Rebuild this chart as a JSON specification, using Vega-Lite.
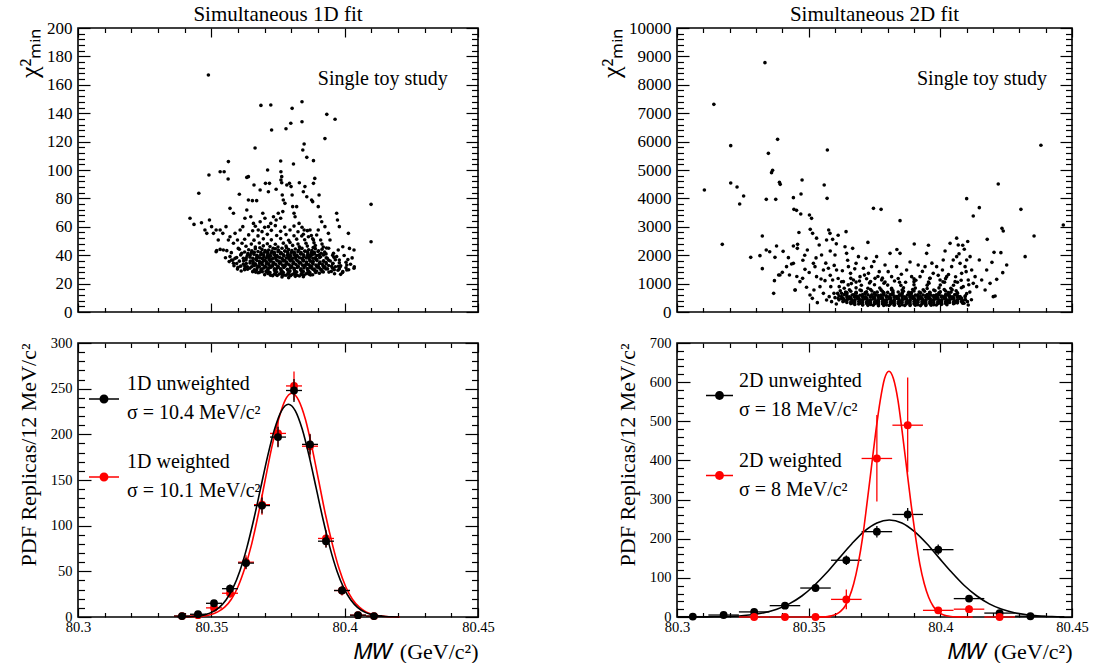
{
"$schema": "https://vega.github.io/schema/vega-lite/v6.json",
"background": "white",
"padding": {"left": 15, "top": 3, "right": 0, "bottom": 0},
"config": {
  "font": "Liberation Serif",
  "view": {"stroke": "black", "strokeWidth": 1.6},
  "axis": {"domain": false, "grid": false, "labelFont": "Liberation Serif", "titleFont": "Liberation Serif", "labelColor": "black", "titleColor": "black", "tickColor": "black", "tickWidth": 1.2, "titleFontWeight": "normal", "labelFlush": false, "labelOverlap": false, "labelBound": false},
  "legend": {"labelFont": "Liberation Serif", "labelColor": "black"},
  "title": {"font": "Liberation Serif", "fontWeight": "normal", "color": "black"},
  "style": {"guide-label": {"lineHeight": 29}}
},
"datasets": {
"s1": [
{"m":80.3489,"c":166.9},{"m":80.3686,"c":145.5},{"m":80.3723,"c":145.8},{"m":80.3803,"c":143.4},{"m":80.384,"c":148.1},{"m":80.3933,"c":139.2},{"m":80.3964,"c":135.7},{"m":80.3726,"c":128.2},{"m":80.378,"c":129.1},{"m":80.3798,"c":132.9},{"m":80.384,"c":134},{"m":80.3926,"c":122.1},{"m":80.3848,"c":118.3},{"m":80.3843,"c":114.1},{"m":80.3664,"c":115.5},{"m":80.3858,"c":108.9},{"m":80.3883,"c":106.6},{"m":80.3808,"c":104.2},{"m":80.376,"c":106.3},{"m":80.3564,"c":105.9},{"m":80.3491,"c":96.5},{"m":80.3533,"c":98.8},{"m":80.3548,"c":98.8},{"m":80.3563,"c":93.7},{"m":80.3453,"c":83.6},{"m":80.342,"c":66},{"m":80.3435,"c":61.7},{"m":80.3463,"c":62.9},{"m":80.3476,"c":57.7},{"m":80.4099,"c":75.8},{"m":80.4099,"c":49.5},{"m":80.3633,"c":94.8},{"m":80.3639,"c":95.3},{"m":80.366,"c":89.4},{"m":80.3711,"c":100},
{"m":80.3605,"c":82.9},{"m":80.3639,"c":78.9},{"m":80.3654,"c":78.4},{"m":80.367,"c":78.4},{"m":80.3683,"c":85.9},{"m":80.3703,"c":90.6},{"m":80.3718,"c":90.6},{"m":80.3714,"c":84.7},{"m":80.3743,"c":86.4},{"m":80.3761,"c":93},{"m":80.3764,"c":91},{"m":80.3766,"c":82.4},{"m":80.3783,"c":89.4},{"m":80.3793,"c":90.6},{"m":80.3799,"c":88.3},{"m":80.3803,"c":82.4},{"m":80.3761,"c":98.8},{"m":80.3764,"c":95.3},{"m":80.377,"c":78.9},{"m":80.383,"c":91},{"m":80.3845,"c":84.7},{"m":80.3851,"c":88.3},{"m":80.3858,"c":81.2},{"m":80.3876,"c":78.9},{"m":80.388,"c":77.7},{"m":80.3888,"c":94.1},{"m":80.3883,"c":90.6},{"m":80.3904,"c":82.4},{"m":80.3901,"c":74.2},{"m":80.3908,"c":67.1},{"m":80.397,"c":69.5},{"m":80.3973,"c":64.8},{"m":80.398,"c":60.1},{"m":80.4014,"c":55.4},{"m":80.3993,"c":46},{"m":80.4018,"c":44.8},{"m":80.4035,"c":43.7},{"m":80.4036,"c":31.9},{"m":80.4035,"c":30.8},{"m":80.4008,"c":33.1},{"m":80.4008,"c":29.6},{"m":80.3983,"c":31.9},{"m":80.3993,"c":28.4},{"m":80.398,"c":36.6},{"m":80.397,"c":39},{"m":80.3976,"c":43.7},{"m":80.3958,"c":41.3},{"m":80.3945,"c":50.7},{"m":80.3939,"c":55.4},{"m":80.3926,"c":60.1},{"m":80.3914,"c":63.6},{"m":80.3901,"c":57.7},{"m":80.3895,"c":54.2},{"m":80.3883,"c":50.7},{"m":80.387,"c":57.7},{"m":80.3864,"c":53},{"m":80.3848,"c":57.7},{"m":80.3839,"c":53.5},{"m":80.3829,"c":62.4},{"m":80.3814,"c":67.1},{"m":80.381,"c":69.5},{"m":80.3805,"c":74.2},{"m":80.382,"c":74.2},{"m":80.3776,"c":76.5},{"m":80.3768,"c":70.7},{"m":80.376,"c":66},{"m":80.3751,"c":69.5},{"m":80.3743,"c":64.8},{"m":80.3733,"c":67.1},{"m":80.3723,"c":62.4},{"m":80.3714,"c":60.1},{"m":80.3701,"c":66},{"m":80.3693,"c":69.5},{"m":80.3683,"c":63.6},{"m":80.3676,"c":57.7},{"m":80.3658,"c":62.4},{"m":80.3648,"c":67.1},{"m":80.3633,"c":71.8},{"m":80.3626,"c":66},{"m":80.3618,"c":60.1},{"m":80.3608,"c":57.7},{"m":80.3589,"c":55.4},{"m":80.3583,"c":69.5},{"m":80.357,"c":73},{"m":80.3555,"c":60.1},{"m":80.3543,"c":55.4},{"m":80.3533,"c":57.7},{"m":80.3526,"c":50.7},{"m":80.3518,"c":57.7},{"m":80.3508,"c":55.4},{"m":80.3501,"c":60.1},{"m":80.3483,"c":55.4},{"m":80.3493,"c":64.8},{"m":80.352,"c":43.2},{"m":80.3533,"c":44.1},{"m":80.3545,"c":43.7},{"m":80.3558,"c":43.2},{"m":80.3518,"c":42.5},{"m":80.357,"c":39},{"m":80.3576,"c":36.6},{"m":80.3589,"c":37.8},{"m":80.3583,"c":34.3},{"m":80.3601,"c":44.8},{"m":80.3614,"c":41.3},{"m":80.3598,"c":50.7},{"m":80.3583,"c":48.4},{"m":80.357,"c":53},{"m":80.3564,"c":50.7},
{"m":80.3765,"c":24.6},{"m":80.379,"c":24.2},{"m":80.3815,"c":25.1},{"m":80.3845,"c":24.8},{"m":80.37,"c":26.3},{"m":80.373,"c":25.6},{"m":80.3755,"c":26.8},{"m":80.378,"c":25.9},{"m":80.3805,"c":26.5},{"m":80.383,"c":25.4},{"m":80.3855,"c":26.9},{"m":80.388,"c":26.2},{"m":80.3905,"c":27.3},{"m":80.3675,"c":27.6},
{"m":80.3655,"c":28.4},{"m":80.368,"c":27.9},{"m":80.3705,"c":28.6},{"m":80.372,"c":27.7},{"m":80.3745,"c":28.3},{"m":80.377,"c":27.8},{"m":80.3795,"c":28.9},{"m":80.382,"c":28.1},{"m":80.3845,"c":28.5},{"m":80.387,"c":27.6},{"m":80.3895,"c":28.8},{"m":80.392,"c":28.2},{"m":80.395,"c":28.6},{"m":80.3975,"c":29.4},{"m":80.3625,"c":29.8},
{"m":80.3625,"c":30.4},{"m":80.3645,"c":30.9},{"m":80.367,"c":29.7},{"m":80.369,"c":30.3},{"m":80.3715,"c":30.8},{"m":80.374,"c":29.9},{"m":80.376,"c":30.5},{"m":80.3785,"c":30.1},{"m":80.381,"c":30.7},{"m":80.3835,"c":29.8},{"m":80.386,"c":30.6},{"m":80.388,"c":30.2},{"m":80.3905,"c":30.9},{"m":80.393,"c":30.3},{"m":80.3955,"c":30.8},{"m":80.398,"c":30.4},{"m":80.4005,"c":31.2},{"m":80.36,"c":31.5},
{"m":80.361,"c":32.3},{"m":80.3635,"c":31.8},{"m":80.366,"c":32.6},{"m":80.368,"c":32.1},{"m":80.3705,"c":31.7},{"m":80.373,"c":32.5},{"m":80.375,"c":32},{"m":80.3775,"c":32.8},{"m":80.38,"c":31.9},{"m":80.3825,"c":32.4},{"m":80.385,"c":32.9},{"m":80.387,"c":31.8},{"m":80.3895,"c":32.6},{"m":80.392,"c":32.2},{"m":80.394,"c":32.7},{"m":80.3965,"c":31.9},{"m":80.3985,"c":32.5},
{"m":80.3595,"c":34.2},{"m":80.362,"c":33.7},{"m":80.3645,"c":34.5},{"m":80.3665,"c":34},{"m":80.369,"c":34.8},{"m":80.3715,"c":33.9},{"m":80.3735,"c":34.4},{"m":80.376,"c":34.9},{"m":80.3785,"c":33.8},{"m":80.381,"c":34.3},{"m":80.3835,"c":34.7},{"m":80.386,"c":33.6},{"m":80.388,"c":34.5},{"m":80.3905,"c":34.1},{"m":80.393,"c":34.8},{"m":80.3955,"c":33.9},{"m":80.398,"c":34.6},{"m":80.4005,"c":35},
{"m":80.358,"c":36.4},{"m":80.3605,"c":35.8},{"m":80.363,"c":36.6},{"m":80.3655,"c":36.1},{"m":80.368,"c":35.7},{"m":80.37,"c":36.5},{"m":80.3725,"c":36.9},{"m":80.375,"c":35.9},{"m":80.3775,"c":36.3},{"m":80.38,"c":36.8},{"m":80.3825,"c":35.8},{"m":80.3845,"c":36.6},{"m":80.387,"c":36.2},{"m":80.3895,"c":36.9},{"m":80.392,"c":35.7},{"m":80.394,"c":36.4},{"m":80.3965,"c":36.8},
{"m":80.3595,"c":38.3},{"m":80.362,"c":37.8},{"m":80.3645,"c":38.6},{"m":80.367,"c":38.1},{"m":80.369,"c":37.7},{"m":80.3715,"c":38.5},{"m":80.374,"c":38.9},{"m":80.3765,"c":37.9},{"m":80.379,"c":38.4},{"m":80.3815,"c":38.8},{"m":80.384,"c":37.8},{"m":80.3865,"c":38.6},{"m":80.389,"c":38.2},{"m":80.391,"c":38.9},{"m":80.3935,"c":37.9},{"m":80.396,"c":38.5},
{"m":80.361,"c":40.2},{"m":80.3635,"c":39.8},{"m":80.366,"c":40.6},{"m":80.3685,"c":40.1},{"m":80.371,"c":39.7},{"m":80.3735,"c":40.5},{"m":80.376,"c":40.9},{"m":80.3785,"c":39.9},{"m":80.381,"c":40.4},{"m":80.3835,"c":40.8},{"m":80.386,"c":39.8},{"m":80.388,"c":40.6},{"m":80.3905,"c":40.2},{"m":80.393,"c":40.9},{"m":80.3955,"c":39.9},
{"m":80.3625,"c":42.3},{"m":80.365,"c":41.8},{"m":80.3675,"c":42.6},{"m":80.37,"c":42.1},{"m":80.3725,"c":41.7},{"m":80.375,"c":42.5},{"m":80.3775,"c":42.9},{"m":80.38,"c":41.9},{"m":80.3825,"c":42.4},{"m":80.385,"c":42.8},{"m":80.3875,"c":41.8},{"m":80.39,"c":42.6},{"m":80.3925,"c":42.2},
{"m":80.3605,"c":44.2},{"m":80.364,"c":43.8},{"m":80.3665,"c":44.6},{"m":80.369,"c":44.1},{"m":80.3715,"c":43.7},{"m":80.374,"c":44.5},{"m":80.3765,"c":44.9},{"m":80.379,"c":43.9},{"m":80.3815,"c":44.4},{"m":80.384,"c":44.8},{"m":80.3865,"c":43.8},{"m":80.389,"c":44.6},{"m":80.3915,"c":44.2},{"m":80.394,"c":44.9},
{"m":80.363,"c":46.3},{"m":80.3665,"c":45.8},{"m":80.3695,"c":46.6},{"m":80.372,"c":46.1},{"m":80.375,"c":45.7},{"m":80.378,"c":46.5},{"m":80.3805,"c":46.9},{"m":80.383,"c":45.9},{"m":80.386,"c":46.4},{"m":80.389,"c":46.8},{"m":80.392,"c":45.8},
{"m":80.3615,"c":48.4},{"m":80.365,"c":47.8},{"m":80.368,"c":48.6},{"m":80.371,"c":48.1},{"m":80.374,"c":47.7},{"m":80.377,"c":48.5},{"m":80.3795,"c":48.9},{"m":80.3825,"c":47.9},{"m":80.3855,"c":48.4},{"m":80.3885,"c":48.8},{"m":80.3915,"c":47.8},
{"m":80.3625,"c":51.2},{"m":80.366,"c":50.6},{"m":80.3695,"c":51.5},{"m":80.3725,"c":50.8},{"m":80.376,"c":51.7},{"m":80.379,"c":50.5},{"m":80.382,"c":51.3},{"m":80.385,"c":50.9},{"m":80.388,"c":51.6},{"m":80.391,"c":50.7},
{"m":80.364,"c":54.3},{"m":80.3675,"c":53.6},{"m":80.371,"c":54.7},{"m":80.3745,"c":53.9},{"m":80.378,"c":54.5},{"m":80.381,"c":53.7},{"m":80.3845,"c":54.8},{"m":80.3875,"c":53.8},
{"m":80.3655,"c":57.2},{"m":80.369,"c":56.6},{"m":80.3725,"c":57.5},{"m":80.376,"c":56.8},{"m":80.3795,"c":57.7},{"m":80.3825,"c":56.5},{"m":80.386,"c":57.3},
{"m":80.3665,"c":60.4},{"m":80.37,"c":59.6},{"m":80.374,"c":60.8},{"m":80.3775,"c":59.8},{"m":80.381,"c":60.5},{"m":80.384,"c":59.7},
{"m":80.3712,"c":27.1},{"m":80.3737,"c":26.9},{"m":80.3762,"c":27.2},{"m":80.3787,"c":27},{"m":80.3812,"c":27.3},{"m":80.3837,"c":26.8},{"m":80.3862,"c":27.4},
{"m":80.3687,"c":29.2},{"m":80.3712,"c":29},{"m":80.3737,"c":29.3},{"m":80.3762,"c":28.9},{"m":80.3787,"c":29.4},{"m":80.3812,"c":29.1},{"m":80.3837,"c":29.3},{"m":80.3862,"c":29},{"m":80.3887,"c":29.2},{"m":80.3912,"c":29.5},
{"m":80.3672,"c":31.2},{"m":80.3697,"c":31},{"m":80.3722,"c":31.3},{"m":80.3747,"c":30.9},{"m":80.3772,"c":31.4},{"m":80.3797,"c":31.1},{"m":80.3822,"c":31.3},{"m":80.3847,"c":31},{"m":80.3872,"c":31.2},{"m":80.3897,"c":31.5},{"m":80.3922,"c":31.1},
{"m":80.3667,"c":33.1},{"m":80.3692,"c":33.3},{"m":80.3717,"c":32.9},{"m":80.3742,"c":33.4},{"m":80.3767,"c":33},{"m":80.3792,"c":33.2},{"m":80.3817,"c":33.5},{"m":80.3842,"c":33},{"m":80.3867,"c":33.3},{"m":80.3892,"c":33.1},{"m":80.3917,"c":33.4},
{"m":80.3657,"c":35.2},{"m":80.3682,"c":34.9},{"m":80.3707,"c":35.3},{"m":80.3732,"c":35},{"m":80.3757,"c":35.4},{"m":80.3782,"c":35.1},{"m":80.3807,"c":35.3},{"m":80.3832,"c":35},{"m":80.3857,"c":35.2},{"m":80.3882,"c":35.5},{"m":80.3907,"c":35.1},
{"m":80.3667,"c":37.1},{"m":80.3692,"c":37.3},{"m":80.3717,"c":36.9},{"m":80.3742,"c":37.4},{"m":80.3767,"c":37},{"m":80.3792,"c":37.2},{"m":80.3817,"c":37.3},{"m":80.3842,"c":37},{"m":80.3867,"c":37.4},{"m":80.3892,"c":37.1},
{"m":80.3672,"c":39.2},{"m":80.3697,"c":38.9},{"m":80.3722,"c":39.3},{"m":80.3747,"c":39},{"m":80.3772,"c":39.4},{"m":80.3797,"c":39.1},{"m":80.3822,"c":39.3},{"m":80.3847,"c":39},{"m":80.3872,"c":39.2},
{"m":80.3637,"c":41.2},{"m":80.3687,"c":41},{"m":80.3712,"c":41.3},{"m":80.3737,"c":40.9},{"m":80.3762,"c":41.4},{"m":80.3787,"c":41.1},{"m":80.3812,"c":41.3},{"m":80.3837,"c":41},{"m":80.3862,"c":41.2},{"m":80.3887,"c":40.9},{"m":80.3912,"c":41.4},
{"m":80.3652,"c":43.1},{"m":80.3702,"c":43.3},{"m":80.3727,"c":42.9},{"m":80.3752,"c":43.4},{"m":80.3777,"c":43},{"m":80.3802,"c":43.2},{"m":80.3827,"c":43.5},{"m":80.3852,"c":43},{"m":80.3877,"c":43.3},{"m":80.3902,"c":43.1},
{"m":80.3682,"c":45.2},{"m":80.3732,"c":44.9},{"m":80.3782,"c":45.3},{"m":80.3832,"c":45},{"m":80.3882,"c":45.4},{"m":80.3932,"c":45.1},
{"m":80.3722,"c":25.9},{"m":80.3747,"c":25.7},{"m":80.3772,"c":26},{"m":80.3797,"c":25.6},{"m":80.3822,"c":25.9},{"m":80.3847,"c":25.8},{"m":80.3872,"c":26.1},
{"m":80.3585,"c":32.6},{"m":80.3598,"c":30.2},{"m":80.3612,"c":28.9},{"m":80.3567,"c":35.5},{"m":80.3553,"c":38.2},{"m":80.3575,"c":41.8},{"m":80.3992,"c":27.9},{"m":80.4015,"c":29.8},{"m":80.4022,"c":33.6},{"m":80.4012,"c":36.9},{"m":80.3998,"c":39.8},{"m":80.4028,"c":38.1},{"m":80.3962,"c":26.9},{"m":80.3985,"c":26.5},
{"m":80.3741,"c":26.5},{"m":80.3766,"c":26.2},{"m":80.3791,"c":26.6},{"m":80.3816,"c":26.1},{"m":80.3841,"c":26.4},{"m":80.3866,"c":26.7},
{"m":80.3666,"c":28.1},{"m":80.3691,"c":28.4},{"m":80.3716,"c":27.9},{"m":80.3741,"c":28.2},{"m":80.3766,"c":28.5},{"m":80.3791,"c":27.8},{"m":80.3816,"c":28.3},{"m":80.3841,"c":28},{"m":80.3866,"c":28.4},{"m":80.3891,"c":27.9},{"m":80.3916,"c":28.6},{"m":80.3941,"c":28.1},
{"m":80.3636,"c":30.1},{"m":80.3661,"c":29.8},{"m":80.3686,"c":30.3},{"m":80.3711,"c":29.9},{"m":80.3736,"c":30.4},{"m":80.3761,"c":30},{"m":80.3786,"c":29.7},{"m":80.3811,"c":30.2},{"m":80.3836,"c":30.5},{"m":80.3861,"c":29.9},{"m":80.3886,"c":30.3},{"m":80.3911,"c":30},{"m":80.3936,"c":30.4},{"m":80.3961,"c":29.8},
{"m":80.3626,"c":32.1},{"m":80.3651,"c":31.9},{"m":80.3676,"c":32.3},{"m":80.3701,"c":32},{"m":80.3726,"c":32.2},{"m":80.3751,"c":31.8},{"m":80.3776,"c":32.3},{"m":80.3801,"c":32.1},{"m":80.3826,"c":31.9},{"m":80.3851,"c":32.2},{"m":80.3876,"c":32},{"m":80.3901,"c":32.3},{"m":80.3926,"c":31.9},{"m":80.3951,"c":32.1},{"m":80.3976,"c":32.2},
{"m":80.3631,"c":34.1},{"m":80.3656,"c":33.8},{"m":80.3681,"c":34.2},{"m":80.3706,"c":34},{"m":80.3731,"c":33.8},{"m":80.3756,"c":34.2},{"m":80.3781,"c":34.1},{"m":80.3806,"c":33.9},{"m":80.3831,"c":34.3},{"m":80.3856,"c":34},{"m":80.3881,"c":33.8},{"m":80.3906,"c":34.2},{"m":80.3931,"c":34},{"m":80.3956,"c":34.3},
{"m":80.3621,"c":36.1},{"m":80.3646,"c":35.9},{"m":80.3671,"c":36.3},{"m":80.3696,"c":36},{"m":80.3721,"c":35.8},{"m":80.3746,"c":36.2},{"m":80.3771,"c":36},{"m":80.3796,"c":35.9},{"m":80.3821,"c":36.3},{"m":80.3846,"c":36},{"m":80.3871,"c":35.8},{"m":80.3896,"c":36.2},{"m":80.3921,"c":36.1},{"m":80.3946,"c":35.9},
{"m":80.3631,"c":38.1},{"m":80.3656,"c":37.9},{"m":80.3681,"c":38.2},{"m":80.3706,"c":38},{"m":80.3731,"c":37.8},{"m":80.3756,"c":38.3},{"m":80.3781,"c":38},{"m":80.3806,"c":37.9},{"m":80.3831,"c":38.2},{"m":80.3856,"c":38},{"m":80.3881,"c":37.8},{"m":80.3906,"c":38.3},{"m":80.3931,"c":38.1},
{"m":80.3646,"c":40.1},{"m":80.3671,"c":39.9},{"m":80.3696,"c":40.3},{"m":80.3721,"c":40},{"m":80.3746,"c":39.8},{"m":80.3771,"c":40.2},{"m":80.3796,"c":40.1},{"m":80.3821,"c":39.9},{"m":80.3846,"c":40.3},{"m":80.3871,"c":40},{"m":80.3896,"c":39.8},{"m":80.3921,"c":40.2},
{"m":80.3661,"c":42.1},{"m":80.3686,"c":41.9},{"m":80.3711,"c":42.3},{"m":80.3736,"c":42},{"m":80.3761,"c":41.8},{"m":80.3786,"c":42.2},{"m":80.3811,"c":42.1},{"m":80.3836,"c":41.9},{"m":80.3861,"c":42.3},{"m":80.3886,"c":42}
],
"s2": [
{"m":80.3104,"c":4296},{"m":80.314,"c":7312},{"m":80.3172,"c":2383},{"m":80.3204,"c":5857},{"m":80.3204,"c":4542},{"m":80.3228,"c":4401},{"m":80.3238,"c":3803},{"m":80.3253,"c":4085},{"m":80.328,"c":1925},{"m":80.3315,"c":1984},{"m":80.3324,"c":2676},{"m":80.3324,"c":1526},{"m":80.3334,"c":8779},{"m":80.3339,"c":3967},{"m":80.3339,"c":2183},{"m":80.3347,"c":5587},{"m":80.3352,"c":2124},{"m":80.3359,"c":4906},{"m":80.3363,"c":4988},{"m":80.3367,"c":657},{"m":80.337,"c":1103},{"m":80.3372,"c":1925},{"m":80.3375,"c":3967},{"m":80.3378,"c":2324},{"m":80.3382,"c":6080},{"m":80.3386,"c":1303},{"m":80.3389,"c":4566},{"m":80.3392,"c":4495},{"m":80.34,"c":1397},{"m":80.3403,"c":2136},{"m":80.3423,"c":1913},{"m":80.3427,"c":1303},{"m":80.3435,"c":1690},{"m":80.3442,"c":4026},{"m":80.3442,"c":2324},{"m":80.3444,"c":3615},{"m":80.3449,"c":775},{"m":80.3454,"c":3580},{"m":80.3457,"c":2242},{"m":80.3458,"c":2383},{"m":80.3471,"c":4155},{"m":80.3475,"c":4648},{"m":80.347,"c":3451},{"m":80.3503,"c":3415},{"m":80.3505,"c":599},{"m":80.3506,"c":2911},{"m":80.3511,"c":3298},{"m":80.3514,"c":481},{"m":80.3515,"c":2770},{"m":80.3533,"c":329},{"m":80.3559,"c":4472},{"m":80.357,"c":4002},{"m":80.3571,"c":5704},{"m":80.3576,"c":2887},{"m":80.3581,"c":2770},{"m":80.3591,"c":2559},{"m":80.3642,"c":2829},{"m":80.3746,"c":3650},{"m":80.3775,"c":3615},{"m":80.3847,"c":3216},{"m":80.3901,"c":2394},{"m":80.41,"c":3991},{"m":80.4125,"c":3380},{"m":80.4148,"c":3674},{"m":80.4178,"c":2559},{"m":80.422,"c":4507},{"m":80.4234,"c":2946},{"m":80.4239,"c":2852},{"m":80.4252,"c":1655},{"m":80.4306,"c":3615},{"m":80.4322,"c":1948},{"m":80.4356,"c":2676},{"m":80.4382,"c":5869},{"m":80.4467,"c":3063},{"m":80.4204,"c":2101},{"m":80.4208,"c":563},{"m":80.4214,"c":1150},{"m":80.4196,"c":1749},{"m":80.423,"c":2089},{"m":80.4237,"c":1385},
{"m":80.3391,"c":1303},{"m":80.3416,"c":1596},{"m":80.3442,"c":1714},{"m":80.3467,"c":1068},{"m":80.3477,"c":1185},{"m":80.3486,"c":1502},{"m":80.3495,"c":2183},{"m":80.3518,"c":1714},{"m":80.3524,"c":1596},{"m":80.353,"c":1244},{"m":80.354,"c":2359},{"m":80.3549,"c":2007},{"m":80.3556,"c":1479},{"m":80.3562,"c":1103},{"m":80.3568,"c":2535},{"m":80.3575,"c":1538},{"m":80.3584,"c":892},{"m":80.3591,"c":1127},{"m":80.36,"c":2007},{"m":80.3606,"c":1479},{"m":80.3616,"c":892},{"m":80.3625,"c":657},{"m":80.3632,"c":1068},{"m":80.3638,"c":2300},{"m":80.3644,"c":2066},{"m":80.3651,"c":1596},{"m":80.3659,"c":1361},{"m":80.3667,"c":2242},{"m":80.367,"c":1127},{"m":80.368,"c":1714},{"m":80.3689,"c":1948},{"m":80.3695,"c":1244},{"m":80.3708,"c":1538},{"m":80.3718,"c":1890},{"m":80.3727,"c":1361},{"m":80.3739,"c":1596},{"m":80.3752,"c":1185},{"m":80.3758,"c":1948},{"m":80.3768,"c":1420},{"m":80.3777,"c":1127},{"m":80.379,"c":1655},{"m":80.3809,"c":2066},{"m":80.3815,"c":1244},{"m":80.3834,"c":1596},{"m":80.3847,"c":2066},{"m":80.3872,"c":1479},{"m":80.3891,"c":1244},{"m":80.3916,"c":1655},{"m":80.3923,"c":1244},{"m":80.3942,"c":1596},{"m":80.3948,"c":2066},{"m":80.3961,"c":1185},{"m":80.3973,"c":1361},{"m":80.3986,"c":1596},{"m":80.3999,"c":1127},{"m":80.4011,"c":1831},{"m":80.4024,"c":1244},{"m":80.4037,"c":2418},{"m":80.4043,"c":1596},{"m":80.4056,"c":1068},{"m":80.4062,"c":1948},{"m":80.4068,"c":2359},{"m":80.4075,"c":1714},{"m":80.4081,"c":1361},{"m":80.4087,"c":892},{"m":80.4094,"c":1596},{"m":80.41,"c":1831},{"m":80.4106,"c":1127},{"m":80.4113,"c":1948},{"m":80.4119,"c":1479},{"m":80.4125,"c":1009},{"m":80.4132,"c":1244},{"m":80.4138,"c":892},{"m":80.4148,"c":1831},{"m":80.4157,"c":1127},{"m":80.417,"c":775},{"m":80.4176,"c":1479},{"m":80.4189,"c":1009},{"m":80.4201,"c":540},
{"m":80.3455,"c":1250},{"m":80.3478,"c":1820},{"m":80.3502,"c":1390},{"m":80.3528,"c":1905},{"m":80.3547,"c":1160},{"m":80.3565,"c":1720},{"m":80.3582,"c":1290},{"m":80.3597,"c":1640},{"m":80.3612,"c":1180},{"m":80.3628,"c":1450},{"m":80.3648,"c":1820},{"m":80.3662,"c":1000},{"m":80.3675,"c":1520},{"m":80.3693,"c":1090},{"m":80.3712,"c":1300},{"m":80.3731,"c":1020},{"m":80.3748,"c":1780},{"m":80.3763,"c":1250},{"m":80.3786,"c":1010},{"m":80.3802,"c":1420},{"m":80.3826,"c":1090},{"m":80.3852,"c":1330},{"m":80.3868,"c":1050},{"m":80.3885,"c":1760},{"m":80.3907,"c":1120},{"m":80.3932,"c":1430},{"m":80.3957,"c":1010},{"m":80.3968,"c":1720},{"m":80.3992,"c":1290},{"m":80.4008,"c":1480},{"m":80.4016,"c":1050},{"m":80.4031,"c":1320},{"m":80.4049,"c":1830},{"m":80.4058,"c":1240},{"m":80.4071,"c":2050},{"m":80.4079,"c":1120},{"m":80.4091,"c":2210},{"m":80.4098,"c":1420},{"m":80.4104,"c":2480},{"m":80.4108,"c":960},{"m":80.4062,"c":2600},{"m":80.4085,"c":2350},{"m":80.3582,"c":2150},{"m":80.3605,"c":2400},{"m":80.353,"c":2600},{"m":80.3485,"c":2000},{"m":80.3463,"c":2800},{"m":80.3612,"c":2700},{"m":80.3725,"c":2450},{"m":80.3835,"c":2200},{"m":80.3955,"c":2350},{"m":80.4018,"c":2150},
{"m":80.3556,"c":657},{"m":80.3568,"c":423},{"m":80.3578,"c":540},{"m":80.3587,"c":364},{"m":80.3596,"c":657},{"m":80.3448,"c":775},{"m":80.3492,"c":869},{"m":80.352,"c":775},{"m":80.3543,"c":892},{"m":80.4103,"c":364},{"m":80.4094,"c":540},{"m":80.4106,"c":246},{"m":80.4112,"c":700},{"m":80.4118,"c":430},{"m":80.3605,"c":280},{"m":80.3612,"c":480},
{"m":80.3725,"c":235},{"m":80.3765,"c":222},{"m":80.3805,"c":228},{"m":80.3845,"c":219},{"m":80.3885,"c":231},{"m":80.3925,"c":226},{"m":80.3965,"c":240},
{"m":80.3705,"c":245},{"m":80.3745,"c":238},{"m":80.3785,"c":232},{"m":80.3825,"c":236},{"m":80.3865,"c":229},{"m":80.3905,"c":241},{"m":80.3945,"c":233},{"m":80.3985,"c":247},{"m":80.4025,"c":255},
{"m":80.366,"c":295},{"m":80.369,"c":282},{"m":80.372,"c":300},{"m":80.375,"c":287},{"m":80.378,"c":293},{"m":80.381,"c":279},{"m":80.384,"c":298},{"m":80.387,"c":285},{"m":80.39,"c":291},{"m":80.393,"c":283},{"m":80.396,"c":297},{"m":80.399,"c":288},{"m":80.402,"c":302},{"m":80.405,"c":294},{"m":80.409,"c":310},
{"m":80.3665,"c":318},{"m":80.3695,"c":309},{"m":80.3725,"c":322},{"m":80.3755,"c":312},{"m":80.3785,"c":306},{"m":80.3815,"c":320},{"m":80.3845,"c":311},{"m":80.3875,"c":317},{"m":80.3905,"c":308},{"m":80.3935,"c":321},{"m":80.3965,"c":313},{"m":80.3995,"c":319},{"m":80.4025,"c":307},{"m":80.4055,"c":316},{"m":80.4085,"c":310},
{"m":80.363,"c":366},{"m":80.366,"c":352},{"m":80.369,"c":371},{"m":80.372,"c":358},{"m":80.375,"c":349},{"m":80.378,"c":368},{"m":80.381,"c":355},{"m":80.384,"c":362},{"m":80.387,"c":350},{"m":80.39,"c":369},{"m":80.393,"c":357},{"m":80.396,"c":364},{"m":80.399,"c":351},{"m":80.402,"c":367},{"m":80.405,"c":356},{"m":80.408,"c":372},
{"m":80.3635,"c":388},{"m":80.3665,"c":381},{"m":80.3695,"c":392},{"m":80.3725,"c":379},{"m":80.3755,"c":386},{"m":80.3785,"c":390},{"m":80.3815,"c":377},{"m":80.3845,"c":389},{"m":80.3875,"c":383},{"m":80.3905,"c":391},{"m":80.3935,"c":380},{"m":80.3965,"c":387},{"m":80.3995,"c":382},{"m":80.4025,"c":393},{"m":80.4055,"c":378},{"m":80.4085,"c":385},
{"m":80.3615,"c":428},{"m":80.3645,"c":441},{"m":80.3675,"c":425},{"m":80.3705,"c":437},{"m":80.3735,"c":422},{"m":80.3765,"c":440},{"m":80.3795,"c":431},{"m":80.3825,"c":419},{"m":80.3855,"c":438},{"m":80.3885,"c":426},{"m":80.3915,"c":443},{"m":80.3945,"c":429},{"m":80.3975,"c":436},{"m":80.4005,"c":421},{"m":80.4035,"c":439},{"m":80.4065,"c":427},{"m":80.4095,"c":434},
{"m":80.3632,"c":456},{"m":80.3662,"c":449},{"m":80.3692,"c":460},{"m":80.3722,"c":452},{"m":80.3752,"c":458},{"m":80.3782,"c":447},{"m":80.3812,"c":455},{"m":80.3842,"c":461},{"m":80.3872,"c":450},{"m":80.3902,"c":457},{"m":80.3932,"c":448},{"m":80.3962,"c":459},{"m":80.3992,"c":453},{"m":80.4022,"c":446},{"m":80.4052,"c":458},{"m":80.4082,"c":451},
{"m":80.36,"c":505},{"m":80.363,"c":492},{"m":80.366,"c":511},{"m":80.369,"c":498},{"m":80.372,"c":489},{"m":80.375,"c":508},{"m":80.378,"c":495},{"m":80.381,"c":502},{"m":80.384,"c":490},{"m":80.387,"c":509},{"m":80.39,"c":497},{"m":80.393,"c":504},{"m":80.396,"c":491},{"m":80.399,"c":507},{"m":80.402,"c":496},{"m":80.405,"c":503},{"m":80.408,"c":493},
{"m":80.3645,"c":527},{"m":80.3675,"c":520},{"m":80.3705,"c":531},{"m":80.3735,"c":518},{"m":80.3765,"c":525},{"m":80.3795,"c":529},{"m":80.3825,"c":516},{"m":80.3855,"c":528},{"m":80.3885,"c":522},{"m":80.3915,"c":530},{"m":80.3945,"c":519},{"m":80.3975,"c":526},{"m":80.4005,"c":521},{"m":80.4035,"c":532},{"m":80.4065,"c":517},
{"m":80.3615,"c":568},{"m":80.3645,"c":581},{"m":80.3675,"c":565},{"m":80.3705,"c":577},{"m":80.3735,"c":562},{"m":80.3765,"c":580},{"m":80.3795,"c":571},{"m":80.3825,"c":559},{"m":80.3855,"c":578},{"m":80.3885,"c":566},{"m":80.3915,"c":583},{"m":80.3945,"c":569},{"m":80.3975,"c":576},{"m":80.4005,"c":561},{"m":80.4035,"c":579},{"m":80.4065,"c":567},{"m":80.4095,"c":574},
{"m":80.3665,"c":598},{"m":80.3695,"c":591},{"m":80.3725,"c":602},{"m":80.3755,"c":589},{"m":80.3785,"c":596},{"m":80.3815,"c":600},{"m":80.3845,"c":587},{"m":80.3875,"c":599},{"m":80.3905,"c":593},{"m":80.3935,"c":601},{"m":80.3965,"c":590},{"m":80.3995,"c":597},{"m":80.4025,"c":592},{"m":80.4055,"c":603},
{"m":80.361,"c":655},{"m":80.3645,"c":642},{"m":80.368,"c":661},{"m":80.3715,"c":648},{"m":80.375,"c":639},{"m":80.3785,"c":658},{"m":80.382,"c":645},{"m":80.3855,"c":652},{"m":80.389,"c":640},{"m":80.3925,"c":659},{"m":80.396,"c":647},{"m":80.3995,"c":654},{"m":80.403,"c":641},{"m":80.4065,"c":657},{"m":80.41,"c":646},
{"m":80.3645,"c":684},{"m":80.368,"c":677},{"m":80.3715,"c":688},{"m":80.375,"c":675},{"m":80.3785,"c":682},{"m":80.382,"c":686},{"m":80.3855,"c":673},{"m":80.389,"c":685},{"m":80.3925,"c":679},{"m":80.396,"c":687},{"m":80.3995,"c":676},{"m":80.403,"c":683},{"m":80.4065,"c":678},
{"m":80.362,"c":745},{"m":80.366,"c":732},{"m":80.37,"c":751},{"m":80.374,"c":738},{"m":80.378,"c":729},{"m":80.382,"c":748},{"m":80.386,"c":735},{"m":80.39,"c":742},{"m":80.394,"c":730},{"m":80.398,"c":749},{"m":80.402,"c":737},{"m":80.406,"c":744},
{"m":80.3655,"c":784},{"m":80.3695,"c":776},{"m":80.3735,"c":790},{"m":80.3775,"c":779},{"m":80.3815,"c":786},{"m":80.3855,"c":774},{"m":80.3895,"c":788},{"m":80.3935,"c":781},{"m":80.3975,"c":777},{"m":80.4015,"c":789},{"m":80.4045,"c":780},
{"m":80.3635,"c":838},{"m":80.368,"c":851},{"m":80.3725,"c":835},{"m":80.377,"c":847},{"m":80.3815,"c":832},{"m":80.386,"c":850},{"m":80.3905,"c":841},{"m":80.395,"c":829},{"m":80.3995,"c":848},{"m":80.404,"c":836},{"m":80.408,"c":853},
{"m":80.365,"c":955},{"m":80.37,"c":942},{"m":80.375,"c":961},{"m":80.38,"c":948},{"m":80.385,"c":939},{"m":80.39,"c":958},{"m":80.395,"c":945},{"m":80.4,"c":952},{"m":80.405,"c":940},
{"m":80.3625,"c":1065},{"m":80.368,"c":1052},{"m":80.3735,"c":1071},{"m":80.379,"c":1058},{"m":80.3845,"c":1049},{"m":80.39,"c":1068},{"m":80.3955,"c":1055},{"m":80.401,"c":1062},{"m":80.4065,"c":1050},
{"m":80.366,"c":1185},{"m":80.372,"c":1172},{"m":80.378,"c":1191},{"m":80.384,"c":1178},{"m":80.39,"c":1169},{"m":80.396,"c":1188},{"m":80.402,"c":1175},
{"m":80.3675,"c":262},{"m":80.3705,"c":255},{"m":80.3735,"c":268},{"m":80.3765,"c":258},{"m":80.3795,"c":251},{"m":80.3825,"c":265},{"m":80.3855,"c":257},{"m":80.3885,"c":263},{"m":80.3915,"c":254},{"m":80.3945,"c":267},{"m":80.3975,"c":259},{"m":80.4005,"c":270},
{"m":80.3645,"c":333},{"m":80.3675,"c":326},{"m":80.3705,"c":338},{"m":80.3735,"c":324},{"m":80.3765,"c":331},{"m":80.3795,"c":336},{"m":80.3825,"c":322},{"m":80.3855,"c":334},{"m":80.3885,"c":327},{"m":80.3915,"c":339},{"m":80.3945,"c":325},{"m":80.3975,"c":332},{"m":80.4005,"c":328},{"m":80.4035,"c":337},{"m":80.4065,"c":323},
{"m":80.3645,"c":402},{"m":80.3675,"c":395},{"m":80.3705,"c":408},{"m":80.3735,"c":398},{"m":80.3765,"c":391},{"m":80.3795,"c":405},{"m":80.3825,"c":397},{"m":80.3855,"c":403},{"m":80.3885,"c":394},{"m":80.3915,"c":407},{"m":80.3945,"c":399},{"m":80.3975,"c":404},{"m":80.4005,"c":393},{"m":80.4035,"c":406},{"m":80.4065,"c":396},
{"m":80.3625,"c":472},{"m":80.3655,"c":465},{"m":80.3685,"c":478},{"m":80.3715,"c":468},{"m":80.3745,"c":461},{"m":80.3775,"c":475},{"m":80.3805,"c":467},{"m":80.3835,"c":473},{"m":80.3865,"c":464},{"m":80.3895,"c":477},{"m":80.3925,"c":469},{"m":80.3955,"c":474},{"m":80.3985,"c":463},{"m":80.4015,"c":476},{"m":80.4045,"c":466},{"m":80.4075,"c":471},
{"m":80.3625,"c":543},{"m":80.3655,"c":536},{"m":80.3685,"c":549},{"m":80.3715,"c":539},{"m":80.3745,"c":532},{"m":80.3775,"c":546},{"m":80.3805,"c":538},{"m":80.3835,"c":544},{"m":80.3865,"c":535},{"m":80.3895,"c":548},{"m":80.3925,"c":540},{"m":80.3955,"c":545},{"m":80.3985,"c":534},{"m":80.4015,"c":547},{"m":80.4045,"c":537},{"m":80.4075,"c":542},
{"m":80.3635,"c":612},{"m":80.367,"c":605},{"m":80.3705,"c":618},{"m":80.374,"c":608},{"m":80.3775,"c":601},{"m":80.381,"c":615},{"m":80.3845,"c":607},{"m":80.388,"c":613},{"m":80.3915,"c":604},{"m":80.395,"c":617},{"m":80.3985,"c":609},{"m":80.402,"c":614},{"m":80.4055,"c":603},
{"m":80.364,"c":702},{"m":80.368,"c":695},{"m":80.372,"c":708},{"m":80.376,"c":698},{"m":80.38,"c":691},{"m":80.384,"c":705},{"m":80.388,"c":697},{"m":80.392,"c":703},{"m":80.396,"c":694},{"m":80.4,"c":707},{"m":80.404,"c":699}
],
"h1": [
{"m":80.339,"n":1,"lo":0,"hi":2,"xl":80.336,"xh":80.342,"s":"1D weighted"},
{"m":80.345,"n":2,"lo":0.6,"hi":3.4,"xl":80.342,"xh":80.348,"s":"1D weighted"},
{"m":80.351,"n":10,"lo":6.8,"hi":13.2,"xl":80.348,"xh":80.354,"s":"1D weighted"},
{"m":80.357,"n":26,"lo":20.9,"hi":31.1,"xl":80.354,"xh":80.36,"s":"1D weighted"},
{"m":80.363,"n":60,"lo":52.3,"hi":67.7,"xl":80.36,"xh":80.366,"s":"1D weighted"},
{"m":80.369,"n":123,"lo":111.9,"hi":134.1,"xl":80.366,"xh":80.372,"s":"1D weighted"},
{"m":80.375,"n":201,"lo":186.8,"hi":215.2,"xl":80.372,"xh":80.378,"s":"1D weighted"},
{"m":80.381,"n":253,"lo":237.1,"hi":268.9,"xl":80.378,"xh":80.384,"s":"1D weighted"},
{"m":80.387,"n":187,"lo":173.3,"hi":200.7,"xl":80.384,"xh":80.39,"s":"1D weighted"},
{"m":80.393,"n":86,"lo":76.7,"hi":95.3,"xl":80.39,"xh":80.396,"s":"1D weighted"},
{"m":80.399,"n":29,"lo":23.6,"hi":34.4,"xl":80.396,"xh":80.402,"s":"1D weighted"},
{"m":80.405,"n":2,"lo":0.6,"hi":3.4,"xl":80.402,"xh":80.408,"s":"1D weighted"},
{"m":80.411,"n":1,"lo":0,"hi":2,"xl":80.408,"xh":80.414,"s":"1D weighted"},
{"m":80.339,"n":1,"lo":0.2,"hi":1.8,"xl":80.336,"xh":80.342,"s":"1D unweighted"},
{"m":80.345,"n":3,"lo":1.6,"hi":4.4,"xl":80.342,"xh":80.348,"s":"1D unweighted"},
{"m":80.351,"n":15,"lo":11.9,"hi":18.1,"xl":80.348,"xh":80.354,"s":"1D unweighted"},
{"m":80.357,"n":31,"lo":26.5,"hi":35.5,"xl":80.354,"xh":80.36,"s":"1D unweighted"},
{"m":80.363,"n":59,"lo":52.9,"hi":65.1,"xl":80.36,"xh":80.366,"s":"1D unweighted"},
{"m":80.369,"n":122,"lo":113.2,"hi":130.8,"xl":80.366,"xh":80.372,"s":"1D unweighted"},
{"m":80.375,"n":197,"lo":185.8,"hi":208.2,"xl":80.372,"xh":80.378,"s":"1D unweighted"},
{"m":80.381,"n":248,"lo":235.4,"hi":260.6,"xl":80.378,"xh":80.384,"s":"1D unweighted"},
{"m":80.387,"n":189,"lo":178,"hi":200,"xl":80.384,"xh":80.39,"s":"1D unweighted"},
{"m":80.393,"n":83,"lo":75.7,"hi":90.3,"xl":80.39,"xh":80.396,"s":"1D unweighted"},
{"m":80.399,"n":29,"lo":24.7,"hi":33.3,"xl":80.396,"xh":80.402,"s":"1D unweighted"},
{"m":80.405,"n":2,"lo":0.9,"hi":3.1,"xl":80.402,"xh":80.408,"s":"1D unweighted"},
{"m":80.411,"n":1,"lo":0.2,"hi":1.8,"xl":80.408,"xh":80.414,"s":"1D unweighted"}
],
"f1": [
{"m":80.3373,"v":0.08,"s":"1D unweighted"},{"m":80.3399,"v":0.2,"s":"1D unweighted"},{"m":80.3425,"v":0.51,"s":"1D unweighted"},{"m":80.3451,"v":1.19,"s":"1D unweighted"},{"m":80.3477,"v":2.59,"s":"1D unweighted"},{"m":80.3503,"v":5.31,"s":"1D unweighted"},{"m":80.3529,"v":10.23,"s":"1D unweighted"},{"m":80.3555,"v":18.55,"s":"1D unweighted"},{"m":80.3581,"v":31.52,"s":"1D unweighted"},{"m":80.3607,"v":50.4,"s":"1D unweighted"},{"m":80.3633,"v":75.66,"s":"1D unweighted"},{"m":80.3659,"v":106.7,"s":"1D unweighted"},{"m":80.3685,"v":141.3,"s":"1D unweighted"},{"m":80.3711,"v":175.9,"s":"1D unweighted"},{"m":80.3737,"v":205.6,"s":"1D unweighted"},{"m":80.3763,"v":225.8,"s":"1D unweighted"},{"m":80.3789,"v":233,"s":"1D unweighted"},{"m":80.3815,"v":225.8,"s":"1D unweighted"},{"m":80.3841,"v":205.6,"s":"1D unweighted"},{"m":80.3867,"v":175.9,"s":"1D unweighted"},{"m":80.3893,"v":141.3,"s":"1D unweighted"},{"m":80.3919,"v":106.7,"s":"1D unweighted"},{"m":80.3945,"v":75.66,"s":"1D unweighted"},{"m":80.3971,"v":50.4,"s":"1D unweighted"},{"m":80.3997,"v":31.52,"s":"1D unweighted"},{"m":80.4023,"v":18.55,"s":"1D unweighted"},{"m":80.4049,"v":10.23,"s":"1D unweighted"},{"m":80.4075,"v":5.31,"s":"1D unweighted"},{"m":80.4101,"v":2.59,"s":"1D unweighted"},{"m":80.4127,"v":1.19,"s":"1D unweighted"},{"m":80.4153,"v":0.51,"s":"1D unweighted"},{"m":80.4179,"v":0.2,"s":"1D unweighted"},{"m":80.4205,"v":0.08,"s":"1D unweighted"},
{"m":80.3398,"v":0.08,"s":"1D weighted"},{"m":80.3423,"v":0.22,"s":"1D weighted"},{"m":80.3449,"v":0.54,"s":"1D weighted"},{"m":80.3474,"v":1.25,"s":"1D weighted"},{"m":80.3499,"v":2.72,"s":"1D weighted"},{"m":80.3524,"v":5.59,"s":"1D weighted"},{"m":80.355,"v":10.76,"s":"1D weighted"},{"m":80.3575,"v":19.5,"s":"1D weighted"},{"m":80.36,"v":33.15,"s":"1D weighted"},{"m":80.3625,"v":52.99,"s":"1D weighted"},{"m":80.3651,"v":79.55,"s":"1D weighted"},{"m":80.3676,"v":112.2,"s":"1D weighted"},{"m":80.3701,"v":148.6,"s":"1D weighted"},{"m":80.3726,"v":184.9,"s":"1D weighted"},{"m":80.3752,"v":216.2,"s":"1D weighted"},{"m":80.3777,"v":237.5,"s":"1D weighted"},{"m":80.3802,"v":245,"s":"1D weighted"},{"m":80.3827,"v":237.5,"s":"1D weighted"},{"m":80.3853,"v":216.2,"s":"1D weighted"},{"m":80.3878,"v":184.9,"s":"1D weighted"},{"m":80.3903,"v":148.6,"s":"1D weighted"},{"m":80.3928,"v":112.2,"s":"1D weighted"},{"m":80.3954,"v":79.55,"s":"1D weighted"},{"m":80.3979,"v":52.99,"s":"1D weighted"},{"m":80.4004,"v":33.15,"s":"1D weighted"},{"m":80.4029,"v":19.5,"s":"1D weighted"},{"m":80.4055,"v":10.76,"s":"1D weighted"},{"m":80.408,"v":5.59,"s":"1D weighted"},{"m":80.4105,"v":2.72,"s":"1D weighted"},{"m":80.413,"v":1.25,"s":"1D weighted"},{"m":80.4156,"v":0.54,"s":"1D weighted"},{"m":80.4181,"v":0.22,"s":"1D weighted"},{"m":80.4206,"v":0.08,"s":"1D weighted"}
],
"h2": [
{"m":80.306,"n":1,"lo":0,"hi":2,"xl":80.3002,"xh":80.3118,"s":"2D unweighted"},
{"m":80.3177,"n":5,"lo":2.8,"hi":7.2,"xl":80.3119,"xh":80.3235,"s":"2D unweighted"},
{"m":80.3293,"n":13,"lo":9.4,"hi":16.6,"xl":80.3235,"xh":80.3351,"s":"2D unweighted"},
{"m":80.341,"n":29,"lo":23.6,"hi":34.4,"xl":80.3352,"xh":80.3468,"s":"2D unweighted"},
{"m":80.3526,"n":74,"lo":65.4,"hi":82.6,"xl":80.3468,"xh":80.3584,"s":"2D unweighted"},
{"m":80.3643,"n":145,"lo":133,"hi":157,"xl":80.3585,"xh":80.3701,"s":"2D unweighted"},
{"m":80.3759,"n":218,"lo":203.2,"hi":232.8,"xl":80.3701,"xh":80.3817,"s":"2D unweighted"},
{"m":80.3876,"n":262,"lo":245.8,"hi":278.2,"xl":80.3818,"xh":80.3934,"s":"2D unweighted"},
{"m":80.3992,"n":172,"lo":158.9,"hi":185.1,"xl":80.3934,"xh":80.405,"s":"2D unweighted"},
{"m":80.4109,"n":47,"lo":40.1,"hi":53.9,"xl":80.4051,"xh":80.4167,"s":"2D unweighted"},
{"m":80.4225,"n":10,"lo":6.8,"hi":13.2,"xl":80.4167,"xh":80.4283,"s":"2D unweighted"},
{"m":80.4342,"n":2,"lo":0.6,"hi":3.4,"xl":80.4284,"xh":80.44,"s":"2D unweighted"},
{"m":80.3293,"n":0,"lo":0,"hi":0,"xl":80.3235,"xh":80.3351,"s":"2D weighted"},
{"m":80.341,"n":0,"lo":0,"hi":0,"xl":80.3352,"xh":80.3468,"s":"2D weighted"},
{"m":80.3526,"n":0,"lo":0,"hi":0,"xl":80.3468,"xh":80.3584,"s":"2D weighted"},
{"m":80.3643,"n":45,"lo":20,"hi":70,"xl":80.3585,"xh":80.3701,"s":"2D weighted"},
{"m":80.3759,"n":405,"lo":295,"hi":516,"xl":80.3701,"xh":80.3817,"s":"2D weighted"},
{"m":80.3876,"n":490,"lo":370,"hi":612,"xl":80.3818,"xh":80.3934,"s":"2D weighted"},
{"m":80.3992,"n":17,"lo":9,"hi":25,"xl":80.3934,"xh":80.405,"s":"2D weighted"},
{"m":80.4109,"n":20,"lo":10,"hi":30,"xl":80.4051,"xh":80.4167,"s":"2D weighted"},
{"m":80.4225,"n":0,"lo":0,"hi":0,"xl":80.4167,"xh":80.4283,"s":"2D weighted"}
],
"f2": [
{"m":80.3046,"v":0.08,"s":"2D unweighted"},{"m":80.3094,"v":0.22,"s":"2D unweighted"},{"m":80.3141,"v":0.55,"s":"2D unweighted"},{"m":80.3189,"v":1.26,"s":"2D unweighted"},{"m":80.3236,"v":2.75,"s":"2D unweighted"},{"m":80.3284,"v":5.65,"s":"2D unweighted"},{"m":80.3331,"v":10.89,"s":"2D unweighted"},{"m":80.3379,"v":19.74,"s":"2D unweighted"},{"m":80.3426,"v":33.55,"s":"2D unweighted"},{"m":80.3474,"v":53.64,"s":"2D unweighted"},{"m":80.3521,"v":80.53,"s":"2D unweighted"},{"m":80.3569,"v":113.5,"s":"2D unweighted"},{"m":80.3616,"v":150.4,"s":"2D unweighted"},{"m":80.3664,"v":187.2,"s":"2D unweighted"},{"m":80.3711,"v":218.9,"s":"2D unweighted"},{"m":80.3759,"v":240.4,"s":"2D unweighted"},{"m":80.3806,"v":248,"s":"2D unweighted"},{"m":80.3854,"v":240.4,"s":"2D unweighted"},{"m":80.3901,"v":218.9,"s":"2D unweighted"},{"m":80.3949,"v":187.2,"s":"2D unweighted"},{"m":80.3996,"v":150.4,"s":"2D unweighted"},{"m":80.4044,"v":113.5,"s":"2D unweighted"},{"m":80.4091,"v":80.53,"s":"2D unweighted"},{"m":80.4139,"v":53.64,"s":"2D unweighted"},{"m":80.4186,"v":33.55,"s":"2D unweighted"},{"m":80.4234,"v":19.74,"s":"2D unweighted"},{"m":80.4281,"v":10.89,"s":"2D unweighted"},{"m":80.4329,"v":5.65,"s":"2D unweighted"},{"m":80.4376,"v":2.75,"s":"2D unweighted"},{"m":80.4424,"v":1.26,"s":"2D unweighted"},{"m":80.4471,"v":0.55,"s":"2D unweighted"},
{"m":80.352,"v":0.08,"s":"2D weighted"},{"m":80.3537,"v":0.21,"s":"2D weighted"},{"m":80.3554,"v":0.55,"s":"2D weighted"},{"m":80.3571,"v":1.38,"s":"2D weighted"},{"m":80.3587,"v":3.2,"s":"2D weighted"},{"m":80.3604,"v":6.97,"s":"2D weighted"},{"m":80.3621,"v":14.32,"s":"2D weighted"},{"m":80.3638,"v":27.57,"s":"2D weighted"},{"m":80.3654,"v":50,"s":"2D weighted"},{"m":80.3671,"v":85,"s":"2D weighted"},{"m":80.3688,"v":135.8,"s":"2D weighted"},{"m":80.3705,"v":203.9,"s":"2D weighted"},{"m":80.3721,"v":287.5,"s":"2D weighted"},{"m":80.3738,"v":380.9,"s":"2D weighted"},{"m":80.3755,"v":474,"s":"2D weighted"},{"m":80.3772,"v":554.2,"s":"2D weighted"},{"m":80.3788,"v":608.7,"s":"2D weighted"},{"m":80.3805,"v":628,"s":"2D weighted"},{"m":80.3822,"v":608.7,"s":"2D weighted"},{"m":80.3839,"v":554.2,"s":"2D weighted"},{"m":80.3855,"v":474,"s":"2D weighted"},{"m":80.3872,"v":380.9,"s":"2D weighted"},{"m":80.3889,"v":287.5,"s":"2D weighted"},{"m":80.3906,"v":203.9,"s":"2D weighted"},{"m":80.3922,"v":135.8,"s":"2D weighted"},{"m":80.3939,"v":85,"s":"2D weighted"},{"m":80.3956,"v":50,"s":"2D weighted"},{"m":80.3973,"v":27.57,"s":"2D weighted"},{"m":80.3989,"v":14.32,"s":"2D weighted"},{"m":80.4006,"v":6.97,"s":"2D weighted"},{"m":80.4023,"v":3.2,"s":"2D weighted"},{"m":80.404,"v":1.38,"s":"2D weighted"},{"m":80.4056,"v":0.55,"s":"2D weighted"},{"m":80.4073,"v":0.21,"s":"2D weighted"},{"m":80.409,"v":0.08,"s":"2D weighted"},{"m":80.4107,"v":0.02,"s":"2D weighted"},{"m":80.4123,"v":0.01,"s":"2D weighted"}
]
},
"columns": 2,
"bounds": "flush",
"spacing": {"row": 31, "column": 199},
"resolve": {"scale": {"color": "independent"}, "legend": {"color": "independent"}},
"concat": [
{
 "width": 400, "height": 284,
 "title": {"text": "Simultaneous 1D fit", "fontSize": 21, "offset": -6},
 "resolve": {"axis": {"x": "independent", "y": "independent"}},
 "layer": [
  {"data": {"name": "s1"}, "mark": {"type": "circle", "size": 13, "opacity": 1, "color": "black"},
   "encoding": {
    "x": {"field": "m", "type": "quantitative", "scale": {"domain": [80.3, 80.45], "nice": false, "zero": false},
      "axis": {"orient": "bottom", "values": [80.3,80.31,80.32,80.33,80.34,80.35,80.36,80.37,80.38,80.39,80.4,80.41,80.42,80.43,80.44,80.45], "labels": false, "title": null, "tickSize": {"condition": {"test": "abs(datum.value*20-round(datum.value*20))<0.001", "value": -9}, "value": -4.5}}},
    "y": {"field": "c", "type": "quantitative", "scale": {"domain": [0, 200], "nice": false},
      "axis": {"orient": "left", "values": [0,4,8,12,16,20,24,28,32,36,40,44,48,52,56,60,64,68,72,76,80,84,88,92,96,100,104,108,112,116,120,124,128,132,136,140,144,148,152,156,160,164,168,172,176,180,184,188,192,196,200], "format": "d", "labelExpr": "datum.value%20==0?datum.label:''", "labelFontSize": 17, "labelPadding": 18, "tickSize": {"condition": {"test": "datum.value%20==0", "value": -12}, "value": -6.5}, "title": "χ²ₘᵢₙ", "titleFontSize": 26, "titleAnchor": "end", "titlePadding": 4}}
   }},
  {"data": {"values": [{}]}, "mark": {"type": "text", "text": "Single toy study", "align": "right", "baseline": "alphabetic", "fontSize": 20, "font": "Liberation Serif", "color": "black"},
   "encoding": {
    "x": {"datum": 80.4387, "type": "quantitative", "scale": {"domain": [80.3, 80.45], "nice": false, "zero": false},
      "axis": {"orient": "top", "values": [80.3,80.31,80.32,80.33,80.34,80.35,80.36,80.37,80.38,80.39,80.4,80.41,80.42,80.43,80.44,80.45], "labels": false, "title": null, "tickSize": {"condition": {"test": "abs(datum.value*20-round(datum.value*20))<0.001", "value": -9}, "value": -4.5}}},
    "y": {"datum": 160, "type": "quantitative", "scale": {"domain": [0, 200], "nice": false},
      "axis": {"orient": "right", "values": [0,4,8,12,16,20,24,28,32,36,40,44,48,52,56,60,64,68,72,76,80,84,88,92,96,100,104,108,112,116,120,124,128,132,136,140,144,148,152,156,160,164,168,172,176,180,184,188,192,196,200], "labels": false, "title": null, "tickSize": {"condition": {"test": "datum.value%20==0", "value": -12}, "value": -6.5}}}
   }}
 ]
},
{
 "width": 395, "height": 284,
 "title": {"text": "Simultaneous 2D fit", "fontSize": 21, "offset": -6},
 "resolve": {"axis": {"x": "independent", "y": "independent"}},
 "layer": [
  {"data": {"name": "s2"}, "mark": {"type": "circle", "size": 13, "opacity": 1, "color": "black"},
   "encoding": {
    "x": {"field": "m", "type": "quantitative", "scale": {"domain": [80.3, 80.45], "nice": false, "zero": false},
      "axis": {"orient": "bottom", "values": [80.3,80.31,80.32,80.33,80.34,80.35,80.36,80.37,80.38,80.39,80.4,80.41,80.42,80.43,80.44,80.45], "labels": false, "title": null, "tickSize": {"condition": {"test": "abs(datum.value*20-round(datum.value*20))<0.001", "value": -9}, "value": -4.5}}},
    "y": {"field": "c", "type": "quantitative", "scale": {"domain": [0, 10000], "nice": false},
      "axis": {"orient": "left", "values": [0,200,400,600,800,1000,1200,1400,1600,1800,2000,2200,2400,2600,2800,3000,3200,3400,3600,3800,4000,4200,4400,4600,4800,5000,5200,5400,5600,5800,6000,6200,6400,6600,6800,7000,7200,7400,7600,7800,8000,8200,8400,8600,8800,9000,9200,9400,9600,9800,10000], "format": "d", "labelExpr": "datum.value%1000==0?datum.label:''", "labelFontSize": 17, "labelPadding": 18, "tickSize": {"condition": {"test": "datum.value%1000==0", "value": -12}, "value": -6.5}, "title": "χ²ₘᵢₙ", "titleFontSize": 26, "titleAnchor": "end", "titlePadding": 4}}
   }},
  {"data": {"values": [{}]}, "mark": {"type": "text", "text": "Single toy study", "align": "right", "baseline": "alphabetic", "fontSize": 20, "font": "Liberation Serif", "color": "black"},
   "encoding": {
    "x": {"datum": 80.4405, "type": "quantitative", "scale": {"domain": [80.3, 80.45], "nice": false, "zero": false},
      "axis": {"orient": "top", "values": [80.3,80.31,80.32,80.33,80.34,80.35,80.36,80.37,80.38,80.39,80.4,80.41,80.42,80.43,80.44,80.45], "labels": false, "title": null, "tickSize": {"condition": {"test": "abs(datum.value*20-round(datum.value*20))<0.001", "value": -9}, "value": -4.5}}},
    "y": {"datum": 7993, "type": "quantitative", "scale": {"domain": [0, 10000], "nice": false},
      "axis": {"orient": "right", "values": [0,200,400,600,800,1000,1200,1400,1600,1800,2000,2200,2400,2600,2800,3000,3200,3400,3600,3800,4000,4200,4400,4600,4800,5000,5200,5400,5600,5800,6000,6200,6400,6600,6800,7000,7200,7400,7600,7800,8000,8200,8400,8600,8800,9000,9200,9400,9600,9800,10000], "labels": false, "title": null, "tickSize": {"condition": {"test": "datum.value%1000==0", "value": -12}, "value": -6.5}}}
   }}
 ]
},
{
 "width": 400, "height": 274,
 "resolve": {"axis": {"x": "independent", "y": "independent"}},
 "layer": [
  {"data": {"name": "h1"}, "transform": [{"filter": "datum.s=='1D weighted'"}], "mark": {"type": "rule", "strokeWidth": 1.3, "color": "red"},
   "encoding": {
    "x": {"field": "m", "type": "quantitative", "scale": {"domain": [80.3, 80.45], "nice": false, "zero": false},
      "axis": {"orient": "top", "values": [80.3,80.31,80.32,80.33,80.34,80.35,80.36,80.37,80.38,80.39,80.4,80.41,80.42,80.43,80.44,80.45], "labels": false, "title": null, "tickSize": {"condition": {"test": "abs(datum.value*20-round(datum.value*20))<0.001", "value": -9}, "value": -4.5}}},
    "y": {"field": "lo", "type": "quantitative", "scale": {"domain": [0, 300], "nice": false},
      "axis": {"orient": "right", "values": [0,10,20,30,40,50,60,70,80,90,100,110,120,130,140,150,160,170,180,190,200,210,220,230,240,250,260,270,280,290,300], "labels": false, "title": null, "tickSize": {"condition": {"test": "datum.value%50==0", "value": -13}, "value": -6.5}}},
    "y2": {"field": "hi"}
   }},
  {"data": {"name": "h1"}, "transform": [{"filter": "datum.s=='1D weighted'"}], "mark": {"type": "rule", "strokeWidth": 1.3, "color": "red"},
   "encoding": {
    "x": {"field": "xl", "type": "quantitative", "scale": {"domain": [80.3, 80.45], "nice": false, "zero": false}, "axis": null},
    "x2": {"field": "xh"},
    "y": {"field": "n", "type": "quantitative", "scale": {"domain": [0, 300], "nice": false}, "axis": null}
   }},
  {"data": {"name": "h1"}, "transform": [{"filter": "datum.s=='1D weighted'"}], "mark": {"type": "point", "shape": "circle", "filled": true, "size": 62, "opacity": 1},
   "encoding": {
    "x": {"field": "m", "type": "quantitative", "scale": {"domain": [80.3, 80.45], "nice": false, "zero": false}, "axis": null},
    "y": {"field": "n", "type": "quantitative", "scale": {"domain": [0, 300], "nice": false}, "axis": null},
    "color": {"field": "s", "type": "nominal", "scale": {"domain": ["1D unweighted", "1D weighted"], "range": ["black", "red"]},
      "legend": {"orient": "none", "legendX": 11, "legendY": 41, "title": null, "symbolType": "M-1,-0.05H1V0.05H-1Z M0.3,0A0.3,0.3,0,1,1,-0.3,0A0.3,0.3,0,1,1,0.3,0Z", "symbolSize": 900, "symbolStrokeWidth": 0, "symbolOpacity": 1, "labelFontSize": 20, "labelOffset": 8, "labelBaseline": "line-bottom", "rowPadding": 29, "labelLimit": 0, "padding": 0, "labelExpr": "datum.label=='1D unweighted'?['1D unweighted','σ = 10.4 MeV/c²']:datum.label=='1D weighted'?['1D weighted','σ = 10.1 MeV/c²']:datum.label=='2D unweighted'?['2D unweighted','σ = 18 MeV/c²']:['2D weighted','σ = 8 MeV/c²']"}}
   }},
  {"data": {"name": "f1"}, "transform": [{"filter": "datum.s=='1D weighted'"}], "mark": {"type": "line", "strokeWidth": 1.6, "interpolate": "monotone", "color": "red"},
   "encoding": {
    "x": {"field": "m", "type": "quantitative", "scale": {"domain": [80.3, 80.45], "nice": false, "zero": false}, "axis": null},
    "y": {"field": "v", "type": "quantitative", "scale": {"domain": [0, 300], "nice": false}, "axis": null}
   }},
  {"data": {"name": "h1"}, "transform": [{"filter": "datum.s=='1D unweighted'"}], "mark": {"type": "rule", "strokeWidth": 1.3, "color": "black"},
   "encoding": {
    "x": {"field": "m", "type": "quantitative", "scale": {"domain": [80.3, 80.45], "nice": false, "zero": false}, "axis": null},
    "y": {"field": "lo", "type": "quantitative", "scale": {"domain": [0, 300], "nice": false}, "axis": null},
    "y2": {"field": "hi"}
   }},
  {"data": {"name": "h1"}, "transform": [{"filter": "datum.s=='1D unweighted'"}], "mark": {"type": "rule", "strokeWidth": 1.3, "color": "black"},
   "encoding": {
    "x": {"field": "xl", "type": "quantitative", "scale": {"domain": [80.3, 80.45], "nice": false, "zero": false}, "axis": null},
    "x2": {"field": "xh"},
    "y": {"field": "n", "type": "quantitative", "scale": {"domain": [0, 300], "nice": false}, "axis": null}
   }},
  {"data": {"name": "h1"}, "transform": [{"filter": "datum.s=='1D unweighted'"}], "mark": {"type": "point", "shape": "circle", "filled": true, "size": 62, "opacity": 1},
   "encoding": {
    "x": {"field": "m", "type": "quantitative", "scale": {"domain": [80.3, 80.45], "nice": false, "zero": false},
      "axis": {"orient": "bottom", "values": [80.3,80.31,80.32,80.33,80.34,80.35,80.36,80.37,80.38,80.39,80.4,80.41,80.42,80.43,80.44,80.45], "format": "~g", "labelExpr": "abs(datum.value*20-round(datum.value*20))<0.001?datum.label:''", "labelFontSize": 14.5, "labelPadding": 12, "tickSize": {"condition": {"test": "abs(datum.value*20-round(datum.value*20))<0.001", "value": -9}, "value": -4.5}, "title": "𝑀𝑊 (GeV/c²)", "titleFontSize": 22, "titleAnchor": "end", "titlePadding": 3}},
    "y": {"field": "n", "type": "quantitative", "scale": {"domain": [0, 300], "nice": false},
      "axis": {"orient": "left", "values": [0,10,20,30,40,50,60,70,80,90,100,110,120,130,140,150,160,170,180,190,200,210,220,230,240,250,260,270,280,290,300], "format": "d", "labelExpr": "datum.value%50==0?datum.label:''", "labelFontSize": 14.5, "labelPadding": 19, "tickSize": {"condition": {"test": "datum.value%50==0", "value": -13}, "value": -6.5}, "title": "PDF Replicas/12 MeV/c²", "titleFontSize": 22, "titleAnchor": "end", "titlePadding": 10}},
    "color": {"field": "s", "type": "nominal", "scale": {"domain": ["1D unweighted", "1D weighted"], "range": ["black", "red"]},
      "legend": {"orient": "none", "legendX": 11, "legendY": 41, "title": null, "symbolType": "M-1,-0.05H1V0.05H-1Z M0.3,0A0.3,0.3,0,1,1,-0.3,0A0.3,0.3,0,1,1,0.3,0Z", "symbolSize": 900, "symbolStrokeWidth": 0, "symbolOpacity": 1, "labelFontSize": 20, "labelOffset": 8, "labelBaseline": "line-bottom", "rowPadding": 29, "labelLimit": 0, "padding": 0, "labelExpr": "datum.label=='1D unweighted'?['1D unweighted','σ = 10.4 MeV/c²']:datum.label=='1D weighted'?['1D weighted','σ = 10.1 MeV/c²']:datum.label=='2D unweighted'?['2D unweighted','σ = 18 MeV/c²']:['2D weighted','σ = 8 MeV/c²']"}}
   }},
  {"data": {"name": "f1"}, "transform": [{"filter": "datum.s=='1D unweighted'"}], "mark": {"type": "line", "strokeWidth": 1.6, "interpolate": "monotone", "color": "black"},
   "encoding": {
    "x": {"field": "m", "type": "quantitative", "scale": {"domain": [80.3, 80.45], "nice": false, "zero": false}, "axis": null},
    "y": {"field": "v", "type": "quantitative", "scale": {"domain": [0, 300], "nice": false}, "axis": null}
   }}
 ]
},
{
 "width": 395, "height": 274,
 "resolve": {"axis": {"x": "independent", "y": "independent"}},
 "layer": [
  {"data": {"name": "h2"}, "transform": [{"filter": "datum.s=='2D unweighted'"}], "mark": {"type": "rule", "strokeWidth": 1.3, "color": "black"},
   "encoding": {
    "x": {"field": "m", "type": "quantitative", "scale": {"domain": [80.3, 80.45], "nice": false, "zero": false},
      "axis": {"orient": "top", "values": [80.3,80.31,80.32,80.33,80.34,80.35,80.36,80.37,80.38,80.39,80.4,80.41,80.42,80.43,80.44,80.45], "labels": false, "title": null, "tickSize": {"condition": {"test": "abs(datum.value*20-round(datum.value*20))<0.001", "value": -9}, "value": -4.5}}},
    "y": {"field": "lo", "type": "quantitative", "scale": {"domain": [0, 700], "nice": false},
      "axis": {"orient": "right", "values": [0,20,40,60,80,100,120,140,160,180,200,220,240,260,280,300,320,340,360,380,400,420,440,460,480,500,520,540,560,580,600,620,640,660,680,700], "labels": false, "title": null, "tickSize": {"condition": {"test": "datum.value%100==0", "value": -13}, "value": -6.5}}},
    "y2": {"field": "hi"}
   }},
  {"data": {"name": "h2"}, "transform": [{"filter": "datum.s=='2D unweighted'"}], "mark": {"type": "rule", "strokeWidth": 1.3, "color": "black"},
   "encoding": {
    "x": {"field": "xl", "type": "quantitative", "scale": {"domain": [80.3, 80.45], "nice": false, "zero": false}, "axis": null},
    "x2": {"field": "xh"},
    "y": {"field": "n", "type": "quantitative", "scale": {"domain": [0, 700], "nice": false}, "axis": null}
   }},
  {"data": {"name": "h2"}, "transform": [{"filter": "datum.s=='2D unweighted'"}], "mark": {"type": "point", "shape": "circle", "filled": true, "size": 62, "opacity": 1},
   "encoding": {
    "x": {"field": "m", "type": "quantitative", "scale": {"domain": [80.3, 80.45], "nice": false, "zero": false},
      "axis": {"orient": "bottom", "values": [80.3,80.31,80.32,80.33,80.34,80.35,80.36,80.37,80.38,80.39,80.4,80.41,80.42,80.43,80.44,80.45], "format": "~g", "labelExpr": "abs(datum.value*20-round(datum.value*20))<0.001?datum.label:''", "labelFontSize": 14.5, "labelPadding": 12, "tickSize": {"condition": {"test": "abs(datum.value*20-round(datum.value*20))<0.001", "value": -9}, "value": -4.5}, "title": "𝑀𝑊 (GeV/c²)", "titleFontSize": 22, "titleAnchor": "end", "titlePadding": 3}},
    "y": {"field": "n", "type": "quantitative", "scale": {"domain": [0, 700], "nice": false},
      "axis": {"orient": "left", "values": [0,20,40,60,80,100,120,140,160,180,200,220,240,260,280,300,320,340,360,380,400,420,440,460,480,500,520,540,560,580,600,620,640,660,680,700], "format": "d", "labelExpr": "datum.value%100==0?datum.label:''", "labelFontSize": 14.5, "labelPadding": 19, "tickSize": {"condition": {"test": "datum.value%100==0", "value": -13}, "value": -6.5}, "title": "PDF Replicas/12 MeV/c²", "titleFontSize": 22, "titleAnchor": "end", "titlePadding": 10}},
    "color": {"field": "s", "type": "nominal", "scale": {"domain": ["2D unweighted", "2D weighted"], "range": ["black", "red"]},
      "legend": {"orient": "none", "legendX": 29, "legendY": 39, "title": null, "symbolType": "M-1,-0.05H1V0.05H-1Z M0.33,0A0.33,0.33,0,1,1,-0.33,0A0.33,0.33,0,1,1,0.33,0Z", "symbolSize": 729, "symbolStrokeWidth": 0, "symbolOpacity": 1, "labelFontSize": 20, "labelOffset": 6, "labelBaseline": "line-bottom", "rowPadding": 30, "labelLimit": 0, "padding": 0, "labelExpr": "datum.label=='1D unweighted'?['1D unweighted','σ = 10.4 MeV/c²']:datum.label=='1D weighted'?['1D weighted','σ = 10.1 MeV/c²']:datum.label=='2D unweighted'?['2D unweighted','σ = 18 MeV/c²']:['2D weighted','σ = 8 MeV/c²']"}}
   }},
  {"data": {"name": "f2"}, "transform": [{"filter": "datum.s=='2D unweighted'"}], "mark": {"type": "line", "strokeWidth": 1.6, "interpolate": "monotone", "color": "black"},
   "encoding": {
    "x": {"field": "m", "type": "quantitative", "scale": {"domain": [80.3, 80.45], "nice": false, "zero": false}, "axis": null},
    "y": {"field": "v", "type": "quantitative", "scale": {"domain": [0, 700], "nice": false}, "axis": null}
   }},
  {"data": {"name": "h2"}, "transform": [{"filter": "datum.s=='2D weighted'"}], "mark": {"type": "rule", "strokeWidth": 1.3, "color": "red"},
   "encoding": {
    "x": {"field": "m", "type": "quantitative", "scale": {"domain": [80.3, 80.45], "nice": false, "zero": false}, "axis": null},
    "y": {"field": "lo", "type": "quantitative", "scale": {"domain": [0, 700], "nice": false}, "axis": null},
    "y2": {"field": "hi"}
   }},
  {"data": {"name": "h2"}, "transform": [{"filter": "datum.s=='2D weighted'"}], "mark": {"type": "rule", "strokeWidth": 1.3, "color": "red"},
   "encoding": {
    "x": {"field": "xl", "type": "quantitative", "scale": {"domain": [80.3, 80.45], "nice": false, "zero": false}, "axis": null},
    "x2": {"field": "xh"},
    "y": {"field": "n", "type": "quantitative", "scale": {"domain": [0, 700], "nice": false}, "axis": null}
   }},
  {"data": {"name": "h2"}, "transform": [{"filter": "datum.s=='2D weighted'"}], "mark": {"type": "point", "shape": "circle", "filled": true, "size": 62, "opacity": 1},
   "encoding": {
    "x": {"field": "m", "type": "quantitative", "scale": {"domain": [80.3, 80.45], "nice": false, "zero": false}, "axis": null},
    "y": {"field": "n", "type": "quantitative", "scale": {"domain": [0, 700], "nice": false}, "axis": null},
    "color": {"field": "s", "type": "nominal", "scale": {"domain": ["2D unweighted", "2D weighted"], "range": ["black", "red"]},
      "legend": {"orient": "none", "legendX": 29, "legendY": 39, "title": null, "symbolType": "M-1,-0.05H1V0.05H-1Z M0.33,0A0.33,0.33,0,1,1,-0.33,0A0.33,0.33,0,1,1,0.33,0Z", "symbolSize": 729, "symbolStrokeWidth": 0, "symbolOpacity": 1, "labelFontSize": 20, "labelOffset": 6, "labelBaseline": "line-bottom", "rowPadding": 30, "labelLimit": 0, "padding": 0, "labelExpr": "datum.label=='1D unweighted'?['1D unweighted','σ = 10.4 MeV/c²']:datum.label=='1D weighted'?['1D weighted','σ = 10.1 MeV/c²']:datum.label=='2D unweighted'?['2D unweighted','σ = 18 MeV/c²']:['2D weighted','σ = 8 MeV/c²']"}}
   }},
  {"data": {"name": "f2"}, "transform": [{"filter": "datum.s=='2D weighted'"}], "mark": {"type": "line", "strokeWidth": 1.6, "interpolate": "monotone", "color": "red"},
   "encoding": {
    "x": {"field": "m", "type": "quantitative", "scale": {"domain": [80.3, 80.45], "nice": false, "zero": false}, "axis": null},
    "y": {"field": "v", "type": "quantitative", "scale": {"domain": [0, 700], "nice": false}, "axis": null}
   }}
 ]
}
]
}
